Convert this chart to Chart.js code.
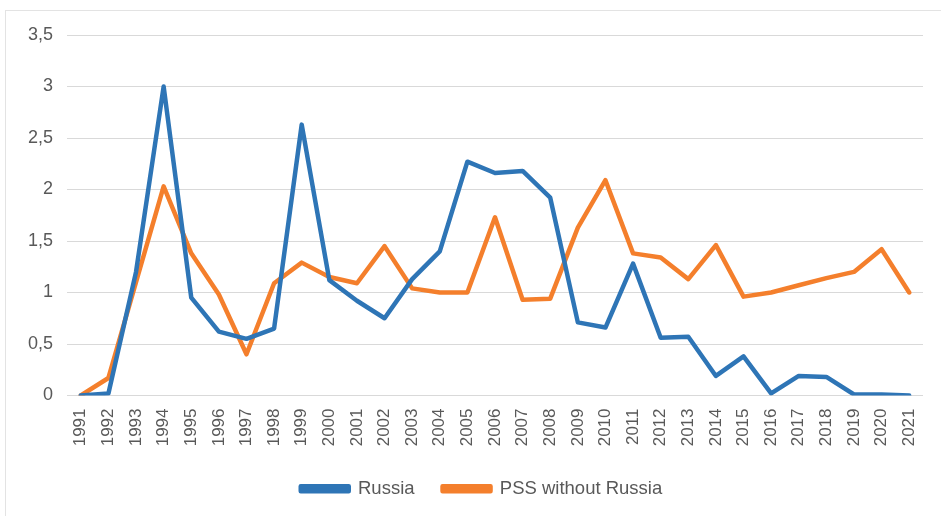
<!DOCTYPE html>
<html>
<head>
<meta charset="utf-8">
<script src="https://cdn.jsdelivr.net/npm/chart.js@4/dist/chart.umd.min.js"></script>
<style>
  body { margin: 0; background: #fff; }
  #frame { position: absolute; left: 5px; top: 10px; width: 1000px; height: 600px; border: 1px solid #e3e3e3; }
  #myChart { position: absolute; left: 0; top: 0; }
</style>
</head>
<body>
<div id="frame"></div>
<canvas id="myChart" width="941" height="516"></canvas>
<script>
var years = ["1991","1992","1993","1994","1995","1996","1997","1998","1999","2000",
  "2001","2002","2003","2004","2005","2006","2007","2008","2009","2010",
  "2011","2012","2013","2014","2015","2016","2017","2018","2019","2020","2021"];
var russia = [0, 0.02, 1.2, 3.0, 0.95, 0.62, 0.55, 0.65, 2.63, 1.12,
  0.92, 0.75, 1.13, 1.4, 2.27, 2.16, 2.18, 1.92, 0.71, 0.66,
  1.28, 0.56, 0.57, 0.19, 0.38, 0.02, 0.19, 0.18, 0.01, 0.01, 0.0];
var pssWithoutRussia = [0, 0.17, 1.1, 2.03, 1.38, 0.98, 0.4, 1.09, 1.29, 1.15,
  1.09, 1.45, 1.04, 1.0, 1.0, 1.73, 0.93, 0.94, 1.63, 2.09,
  1.38, 1.34, 1.13, 1.46, 0.96, 1.0, 1.07, 1.14, 1.2, 1.42, 1.0];
var seriesNames = ["Russia", "PSS without Russia"];

var textColor = "#595959";
var fontFamily = "'Liberation Sans', Arial, sans-serif";

// nudge the legend right so it sits centred under the plot like the original
var legendShift = {
  id: "legendShift",
  afterLayout: function (chart) {
    if (chart.legend) chart.legend.left += 40;
  }
};

new Chart("myChart", {
  type: "line",
  data: {
    labels: years,
    datasets: [
      {
        label: seriesNames[0],
        data: russia,
        borderColor: "#2e75b6",
        backgroundColor: "#2e75b6",
        borderWidth: 4.5,
        borderJoinStyle: "round",
        borderCapStyle: "round",
        pointRadius: 0,
        tension: 0
      },
      {
        label: seriesNames[1],
        data: pssWithoutRussia,
        borderColor: "#f47f2c",
        backgroundColor: "#f47f2c",
        borderWidth: 4.5,
        borderJoinStyle: "round",
        borderCapStyle: "round",
        pointRadius: 0,
        tension: 0
      }
    ]
  },
  options: {
    responsive: false,
    animation: false,
    layout: { padding: { left: 0, right: 18, top: 35, bottom: 8 } },
    plugins: {
      tooltip: { enabled: false },
      legend: {
        position: "bottom",
        labels: {
          boxWidth: 48,
          boxHeight: 5,
          padding: 28,
          color: textColor,
          font: { family: fontFamily, size: 18.5 }
        }
      }
    },
    scales: {
      x: {
        offset: true,
        grid: { display: false },
        border: { display: false },
        ticks: {
          color: textColor,
          font: { family: fontFamily, size: 17 },
          minRotation: 90,
          maxRotation: 90,
          autoSkip: false,
          padding: 5
        },
        afterFit: function (scale) { scale.height = 56; }
      },
      y: {
        min: 0,
        max: 3.5,
        grid: { color: "#d9d9d9", lineWidth: 1, drawTicks: false },
        border: { display: false },
        ticks: {
          stepSize: 0.5,
          color: textColor,
          padding: 14,
          font: { family: fontFamily, size: 18 },
          callback: function (v) { return String(v).replace(".", ","); }
        },
        afterFit: function (scale) { scale.width = 67; }
      }
    }
  },
  plugins: [legendShift]
});
</script>
</body>
</html>
